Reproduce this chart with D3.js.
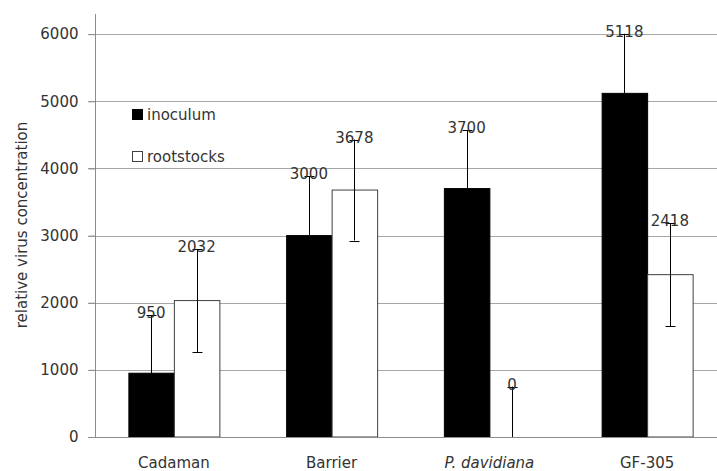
<!DOCTYPE html>
<html>
<head>
<meta charset="utf-8">
<script src="https://cdn.jsdelivr.net/npm/d3@7"></script>
<style>
  html, body { margin: 0; padding: 0; background: #fff; }
  svg { display: block; }
  text { font-family: "DejaVu Sans", sans-serif; fill: #333; }
</style>
</head>
<body>
<svg id="chart" width="717" height="471"></svg>
<script>
const categories = ["Cadaman", "Barrier", "P. davidiana", "GF-305"];
const seriesNames = ["inoculum", "rootstocks"];
const inoculum = [950, 3000, 3700, 5118];
const rootstocks = [2032, 3678, 0, 2418];
const inoculumErr = [865, 880, 875, 888];
const rootstocksErr = [765, 752, 750, 765];
const yTicks = [0, 1000, 2000, 3000, 4000, 5000, 6000];
const yTitle = "relative virus concentration";

const svg = d3.select("#chart");
const W = 717, H = 471;
const left = 95, bottom = 437;

const y = d3.scaleLinear().domain([0, 6300]).range([bottom, 14]);
const x = d3.scaleBand().domain(categories).range([left, 726]).padding(0);
const barW = 45.5;
const xs = d3.scaleBand().domain(seriesNames).range([-barW, barW]);

const fills = { inoculum: "#000", rootstocks: "#fff" };

// gridlines
svg.append("g").selectAll("line").data(yTicks.filter(d => d > 0)).join("line")
  .attr("x1", left - 7).attr("x2", W + 10)
  .attr("y1", d => Math.round(y(d)) + 0.5).attr("y2", d => Math.round(y(d)) + 0.5)
  .attr("stroke", "#a6a6a6").attr("stroke-width", 1);

// y axis
const yAxis = d3.axisLeft(y).tickValues(yTicks).tickSize(7).tickPadding(10).tickFormat(d3.format("d"));
const gy = svg.append("g").attr("transform", `translate(${left + 0.5},0)`).call(yAxis);
gy.select(".domain").attr("stroke", "#8c8c8c").attr("d", `M0,${y(6300)}V${bottom + 0.5}`);
gy.selectAll(".tick line").attr("stroke", "#8c8c8c");
gy.selectAll(".tick text").style("font-size", "15px").attr("fill", "#333")
  .style("font-family", '"DejaVu Sans", sans-serif');

// data rows
const rows = [];
categories.forEach((c, i) => {
  rows.push({ cat: c, s: "inoculum", v: inoculum[i], e: inoculumErr[i] });
  rows.push({ cat: c, s: "rootstocks", v: rootstocks[i], e: rootstocksErr[i] });
});
const cx = d => x(d.cat) + x.bandwidth() / 2 + xs(d.s) + xs.bandwidth() / 2;

// bars
svg.append("g").selectAll("rect").data(rows.filter(d => d.v > 0)).join("rect")
  .attr("x", d => x(d.cat) + x.bandwidth() / 2 + xs(d.s) + 0.5)
  .attr("y", d => y(d.v))
  .attr("width", xs.bandwidth())
  .attr("height", d => y(0) - y(d.v))
  .attr("fill", d => fills[d.s])
  .attr("stroke", d => d.s === "rootstocks" ? "#404040" : "#000")
  .attr("stroke-width", 1);

// x axis line
svg.append("line").attr("x1", left - 7).attr("x2", W + 10)
  .attr("y1", bottom + 0.5).attr("y2", bottom + 0.5)
  .attr("stroke", "#8c8c8c");

// error bars
const eg = svg.append("g").attr("stroke", "#000").attr("stroke-width", 1);
rows.forEach(d => {
  const xc = Math.round(cx(d)) + 0.5;
  const lo = Math.max(0, d.v - d.e), hi = d.v + d.e;
  eg.append("line").attr("x1", xc).attr("x2", xc).attr("y1", y(lo)).attr("y2", y(hi));
  eg.append("line").attr("x1", xc - 5).attr("x2", xc + 5).attr("y1", Math.round(y(hi)) + 0.5).attr("y2", Math.round(y(hi)) + 0.5);
  if (d.v - d.e > 0) {
    eg.append("line").attr("x1", xc - 5).attr("x2", xc + 5).attr("y1", Math.round(y(lo)) + 0.5).attr("y2", Math.round(y(lo)) + 0.5);
  }
});

// value labels
svg.append("g").selectAll("text").data(rows).join("text")
  .attr("x", d => cx(d)).attr("y", d => y(d.v + d.e) + 3)
  .attr("text-anchor", "middle").style("font-size", "15px")
  .text(d => d.v);

// category labels
svg.append("g").selectAll("text").data(categories).join("text")
  .attr("x", d => x(d) + x.bandwidth() / 2).attr("y", 468)
  .attr("text-anchor", "middle").style("font-size", "15px")
  .style("font-style", d => d === "P. davidiana" ? "italic" : "normal")
  .text(d => d);

// y title
svg.append("text").attr("transform", `translate(27,${225}) rotate(-90)`)
  .attr("text-anchor", "middle").style("font-size", "15px").text(yTitle);

// legend
const lg = svg.append("g");
seriesNames.forEach((s, i) => {
  lg.append("rect").attr("x", 132.5).attr("y", 109.5 + i * 42).attr("width", 10).attr("height", 10)
    .attr("fill", fills[s]).attr("stroke", s === "rootstocks" ? "#404040" : "#000");
  lg.append("text").attr("x", 147).attr("y", 120 + i * 42).style("font-size", "15px").text(s);
});
</script>
</body>
</html>
